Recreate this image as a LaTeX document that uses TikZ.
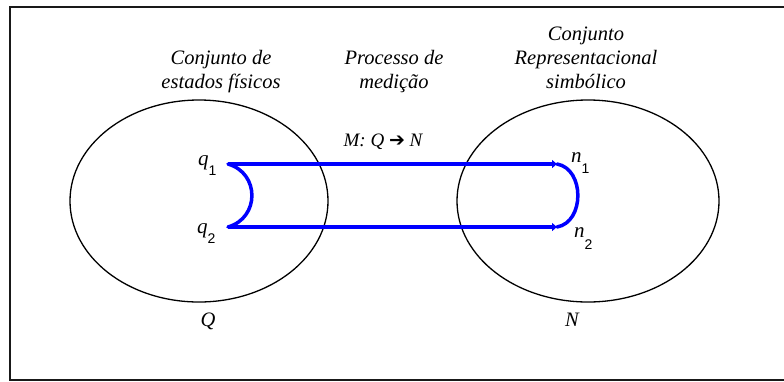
\documentclass[tikz,border=0pt]{standalone}
\usepackage{fontspec}
\setmainfont{Liberation Serif}
\newfontfamily\subfont{Liberation Sans}
\newfontfamily\arrowfont{DejaVu Sans}
\usetikzlibrary{arrows.meta,shapes.geometric}
\begin{document}
\begin{tikzpicture}[x=1pt,y=-1pt,
  frame/.style={draw=black!90, line width=2pt},
  setshape/.style={draw, ellipse, line width=1.3pt, inner sep=0pt, minimum height=202pt},
  caption/.style={font=\fontsize{20.5}{24}\selectfont\itshape, inner sep=0pt, anchor=base},
  elem/.style={font=\fontsize{21}{24}\selectfont\itshape, inner sep=0pt, anchor=base west},
  link/.style={draw=blue, line width=3.8pt},
  linkarc/.style={draw=blue, line width=3.5pt}
]
\useasboundingbox (0,0) rectangle (784,381);
\begin{scope}
\clip (0,0) rectangle (784,381);
\draw[frame] (10,6.5) rectangle (800,380);
\end{scope}

% sets
\node[setshape, minimum width=258pt] (Qset) at (199,201) {};
\node[setshape, minimum width=262pt] (Nset) at (588,201) {};

% captions
\node[caption] (c1a) at (221,64) {Conjunto de};
\node[caption] (c1b) at (221,88) {estados físicos};
\node[caption] (c2a) at (394,64) {Processo de};
\node[caption] (c2b) at (394,88) {medição};
\node[caption] (c3a) at (586,40) {Conjunto};
\node[caption] (c3b) at (586,64) {Representacional};
\node[caption] (c3c) at (586,88) {simbólico};

\node[caption, font=\fontsize{19}{22}\selectfont\itshape] (map) at (383,146) {M: Q {\upshape\arrowfont\fontsize{19}{19}\selectfont ➔} N};

\node[caption] (Qlab) at (208,326) {Q};
\node[caption] (Nlab) at (572,326) {N};

% element labels
\node[elem] (q1) at (198,165) {q\raisebox{-10pt}{\upshape\subfont\fontsize{14}{14}\selectfont 1}};
\node[elem] (q2) at (197,233) {q\raisebox{-10pt}{\upshape\subfont\fontsize{14}{14}\selectfont 2}};
\node[elem] (n1) at (571,162) {n\raisebox{-11pt}{\upshape\subfont\fontsize{14}{14}\selectfont 1}};
\node[elem] (n2) at (574,237) {n\raisebox{-12pt}{\upshape\subfont\fontsize{14}{14}\selectfont 2}};

% connection points
\coordinate (q1p) at (228,164);
\coordinate (q2p) at (228,227);
\coordinate (n1p) at (557,164);
\coordinate (n2p) at (557,227);

\draw[link, -{Triangle[length=5pt,width=8pt]}] (q1p) -- (n1p);
\draw[link, -{Triangle[length=5pt,width=8pt]}] (q2p) -- (n2p);
\draw[linkarc, line cap=round] (q1p) to[out=-16,in=16,looseness=1.35] (q2p);
\draw[linkarc, line cap=round] (n1p) to[out=-10,in=10,looseness=1.15] (n2p);
\end{tikzpicture}
\end{document}
